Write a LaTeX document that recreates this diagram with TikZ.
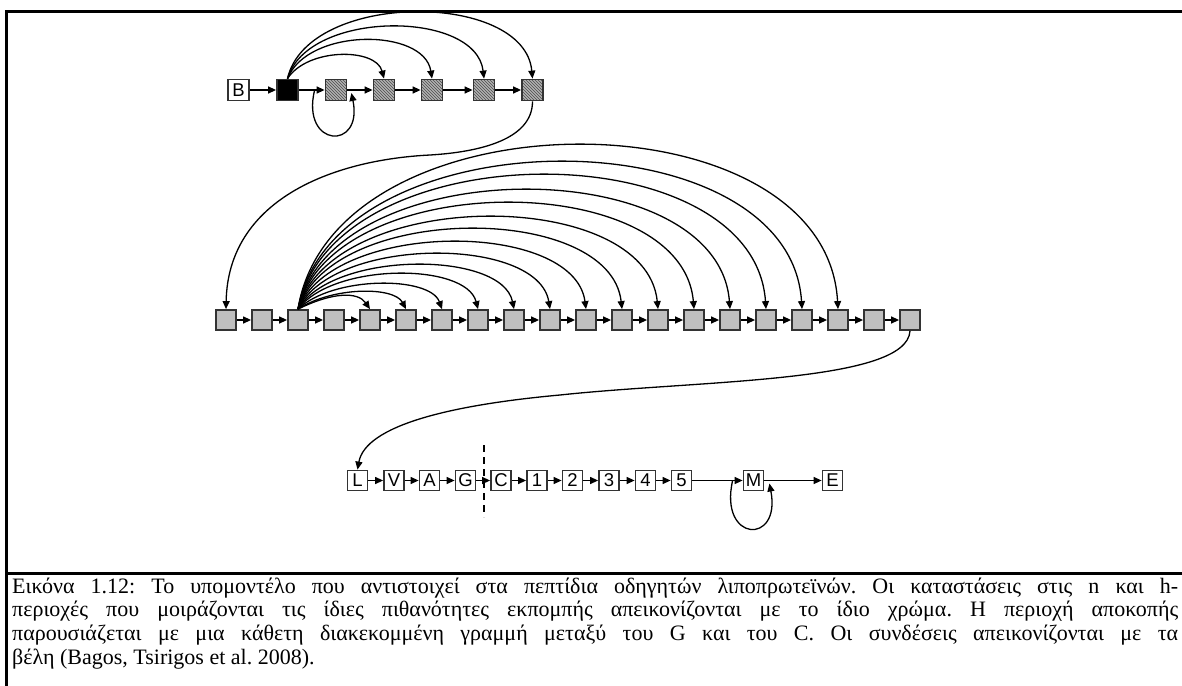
\documentclass[tikz,border=0pt]{standalone}
\usepackage{fontspec}
\setmainfont{Liberation Serif}
\setsansfont{Liberation Sans}
\usetikzlibrary{arrows.meta,patterns,calc}
\frenchspacing
\begin{document}
\begin{tikzpicture}[x=1pt,y=-1pt,
  box/.style={draw=black!80, line width=1.8pt, minimum size=20pt, inner sep=0pt, font=\sffamily\fontsize{18.5}{18.5}\selectfont},
  gbox/.style={box, fill=black!25},
  hbox/.style={box, minimum size=21pt, preaction={fill=black!30}, pattern=north west lines, pattern color=black!70},
  kbox/.style={box, minimum size=21pt, fill=black},
  wbox/.style={box, fill=white},
  tbox/.style={wbox, minimum size=21pt},
  arr/.style={-{Triangle[length=8pt,width=7pt]}, line width=1.3pt},
  frameline/.style={line width=2.6pt},
  caption/.style={anchor=north west, inner sep=0pt, text width=1166pt, align=justify,
     font=\fontsize{22}{23.6}\selectfont}]
\useasboundingbox (0,0) rectangle (1182,685);
\fill[white] (0,0) rectangle (1182,685);
% frame
\draw[frameline] (6.2,686) -- (6.2,11.3) -- (1183,11.3);
\draw[frameline] (6.2,573.5) -- (1183,573.5);
% top row
\node[tbox] (B) at (238.5,90) {B};
\node[kbox] (K) at (287.5,90) {};
\node[hbox] (h1) at (336,90) {};
\node[hbox] (h2) at (384,90) {};
\node[hbox] (h3) at (432,90) {};
\node[hbox] (h4) at (484,90) {};
\node[hbox] (h5) at (532.5,90) {};
\draw[arr] (B) -- (K);
\draw[arr] (K) -- (h1);
\draw[arr] (h1) -- (h2);
\draw[arr] (h2) -- (h3);
\draw[arr] (h3) -- (h4);
\draw[arr] (h4) -- (h5);
\foreach \t/\k in {h2/31,h3/51,h4/69,h5/88}
  \draw[arr] (K.north) .. controls +(20,-\k) and +(-8,-\k) .. (\t.north);
\draw[arr] ([xshift=-10pt]h1.west) .. controls +(-14,58) and +(12,58) .. ([xshift=4pt,yshift=-3pt]h1.east);
% middle row
\foreach \i in {1,...,20}
  \node[gbox] (m\i) at ({226+36*(\i-1)},320) {};
\foreach \i [evaluate=\i as \j using int(\i+1)] in {1,...,19}
  \draw[arr] (m\i) -- (m\j);
\foreach \t/\h in {5/13,6/17,7/25,8/35,9/44,10/55,11/67,12/80,13/92,14/106,15/119,16/134,17/147,18/164}
  \draw[arr] (m3.north) .. controls +(35,{-\h/0.75}) and +(-12,{-\h/0.75}) .. (m\t.north);
% S curve from top row to middle row
\coordinate (s1) at (430,155);
\draw[arr] (h5.south) .. controls +(0,38) and +(50,-3) .. (s1) .. controls +(-100,5) and +(2,-108) .. (m1.north);
% bottom row
\foreach \n/\x/\l in {L/357.5/L,V/394/V,A/429.5/A,G/465.5/G,C/501/C,n1/537/1,n2/572.5/2,n3/609/3,n4/645.5/4,n5/681.5/5,M/753.5/M,E/832.5/E}
  \node[wbox] (\n) at (\x,480.5) {\l};
\foreach \a/\b in {L/V,V/A,A/G,G/C,C/n1,n1/n2,n2/n3,n3/n4,n4/n5,n5/M,M/E}
  \draw[arr] (\a) -- (\b);
\draw[arr] ([xshift=-10pt]M.west) .. controls +(-14,62) and +(12,62) .. ([xshift=5pt,yshift=-3pt]M.east);
% curve from middle row to bottom row
\coordinate (s2) at (560,395);
\draw[arr] (m20.south) .. controls +(-3,52) and +(140,-15) .. (s2) .. controls +(-110,10) and +(8,-44) .. (L.north);
% dashed cut line
\coordinate (d1) at (484,445);
\coordinate (d2) at (484,517);
\draw[line width=1.6pt, dash pattern=on 7pt off 5pt] (d1) -- (d2);
% caption
\node[caption] (cap) at (12,577.5) {\hyphenpenalty=10000 Εικόνα 1.12: Το υπομοντέλο που αντιστοιχεί στα πεπτίδια οδηγητών λιποπρωτεϊνών. Οι καταστάσεις στις n και h-\linebreak περιοχές που μοιράζονται τις ίδιες πιθανότητες εκπομπής απεικονίζονται με το ίδιο χρώμα. Η περιοχή αποκοπής\linebreak παρουσιάζεται με μια κάθετη διακεκομμένη γραμμή μεταξύ του G και του C. Οι συνδέσεις απεικονίζονται με τα\linebreak βέλη (Bagos, Tsirigos et al. 2008).};
\end{tikzpicture}
\end{document}
